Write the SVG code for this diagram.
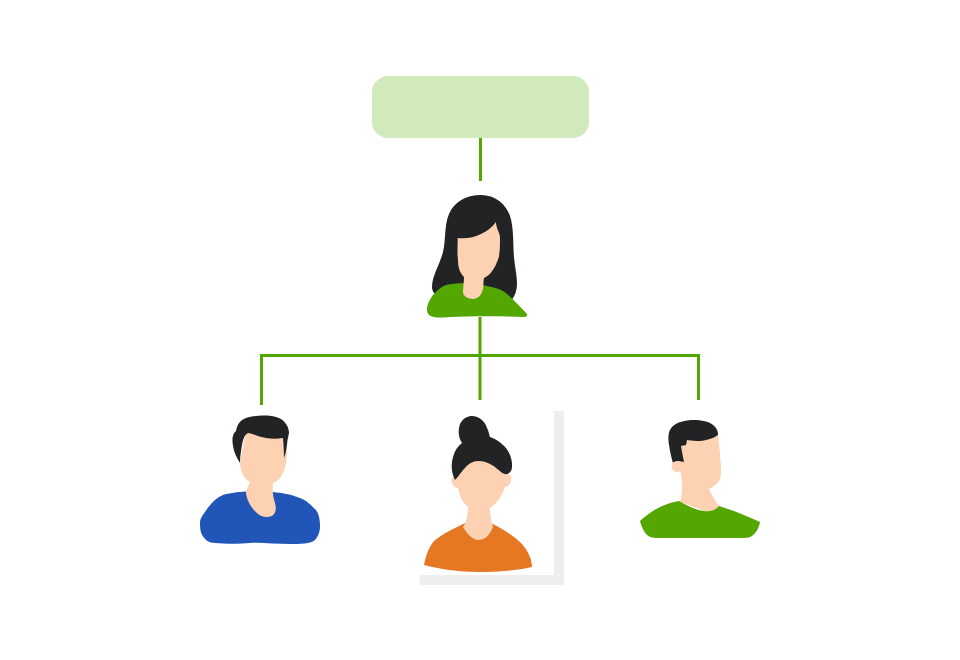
<svg xmlns="http://www.w3.org/2000/svg" width="960" height="660" viewBox="0 0 960 660">
<style>
.hair{fill:#222324}.skin{fill:#fcd2b3}.green{fill:#54a600}.blue{fill:#2156b8}.orange{fill:#e67723}
.link{fill:none;stroke:#54a600;stroke-width:3}
</style>
<rect width="960" height="660" fill="#ffffff"/>
<g id="connectors">
<path class="link" d="M480.500 138V181"/>
<path class="link" d="M480 317V400"/>
<path class="link" d="M261.500 405V355.500H698.500V400"/>
</g>
<g id="root-box"><rect x="372" y="76" width="217" height="62" rx="16" fill="#d1eabc"/></g>
<g id="person-top">
<path class="hair" d="M432 287C432 276 440 264 443 252C446 240 444 226 449 214C454 202 466 195 481 195C495 195 506 204 510 216C514 228 513 245 514 257C515 268 517 275 517 284C517 290 515 296 511 301L440 298C434 294 432 291 432 287Z"/>
<path class="green" d="M427 308C428 301 433 294 438 290C442 286 447 284 452 284C458 283 466 283 472 284C484 285 495 287 503 291C511 296 519 306 527 314C528 316 526 317 524 317C500 316 470 316 450 317C441 318 433 318 429 315C427 313 427 311 427 308Z"/>
<path class="skin" d="M457.700 238C472 240 488 233 496 222C496 229 500 232 500 238C500 248 500 256 497 262C494 270 489 276 484 278C483 283 484 288 482 292C480 297 476 299 473 299C468 299 463 296 463 292C463 287 464 282 464 277C460 273 458 268 458 260C457 252 457.700 245 457.700 238Z"/>
</g>
<g id="person-left">
<path class="blue" d="M246 491.500C238 492 229 493 223 495C215 498 209 506 205 512C202 516 200 519 200 522C200 527 200 531 202 535C205 540 209 543 215 543C225 544 240 544 250 543C260 542 275 544 290 544C300 544 311 544 315 540C319 535 320 531 320 526C320 520 319 514 316 510C311 505 306 500 300 498C290 494 282 493 273 492Z"/>
<path class="skin" d="M246 430H283L287 452C287 462 285 469 282 475C279 480 276 482 273 483C272 490 273 497 275 503C277 510 275 514 272 516C266 518 262 517 258 514C252 509 246 500 246 491.500C247 488 249 485 250 482C246 480 243 476 242 472C240 468 240 463 240 463Z"/>
<path class="hair" d="M233 446C232 440 232 434 236 431C237 425 240 420 246 418C254 415 268 415 276 417C284 419 289 426 289 433L287.500 440C287 446 286 453 284 458C284 451 283.500 444 283 438C277 439 272 439 266 438C258 437 252 433 248 433C244 435 243 440 242 445C241 451 240 457 240 463C237 458 234 453 233 446Z"/>
</g>
<g id="person-middle">
<path fill="#eeeeee" d="M554 411H564V585H419.500V575H554Z"/>
<path class="orange" d="M424 565C426 555 429 547 434 541C442 534 455 528 465 523L478 530L493 524C503 529 515 537 522 544C528 551 532 559 532 567C515 571 495 572 477 572C458 572 440 569 424 565Z"/>
<path class="skin" d="M452 478C450 482 454 488 458 488C460 497 463 503 468 507C468 514 467 521 463 527C468 535 473 540 478 540C486 540 490 534 493 527C491 520 490 514 490 508C497 503 502 496 505 487C509 487 512 482 511 476L480 455Z"/>
<path class="hair" d="M455 480C451 472 451 464 453 457C455 450 458 446 462 443C458 437 458 430 460 424C463 418 468 416 472 416C479 416 485 421 487 428C489 432 489 435 490 437C499 440 507 447 510 455C512 460 513 467 511 471C508 475 505 475 501 472C495 467 489 461 478 461C467 461 462 473 455 480Z"/>
</g>
<g id="person-right">
<path class="skin" d="M687 440L718 433C719 445 721 460 721 472C721 480 718 484 714 486C712 488 710 488 709 489C712 496 716 502 720 507L710 513L680 502C682 495 682 489 682 482C681 475 680 468 680 462L681 447Z"/>
<path class="green" d="M640 521C646 515 654 510 660 507C666 504 673 502 679 501C686 505 695 510 704 511C710 512 716 510 719 506C732 510 747 516 760 522C759 528 756 533 752 536C749 538 745 538 741 538H656C650 538 646 535 644 531C642 528 641 524 640 521Z"/>
<path class="hair" d="M669 445C668 438 668 431 672 427C677 422 685 420 694 420C703 420 712 422 716 428C718 431 718 434 718 435C712 439 704 441 697 441C692 441 689 440 687 440L686 445L681 446C682 452 683 457 684 462C680 461 676 461 673 463C671 457 670 451 669 445Z"/>
<circle class="skin" cx="677" cy="466.500" r="5.500"/>
</g>
</svg>
